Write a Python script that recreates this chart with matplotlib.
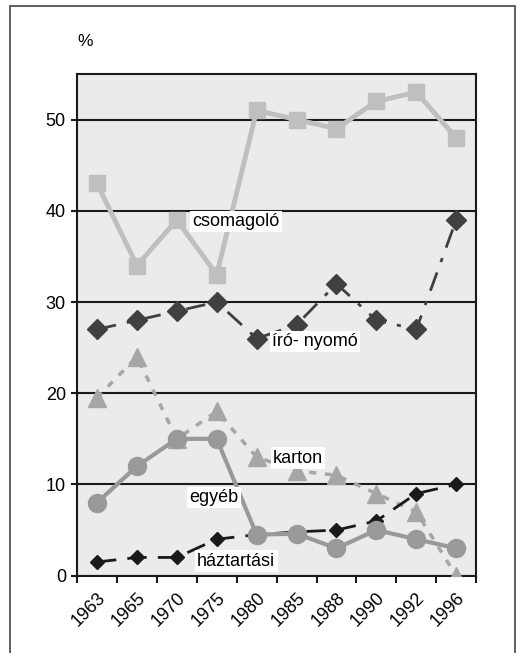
import numpy as np
import matplotlib
matplotlib.use('Agg')
import matplotlib.pyplot as plt
from matplotlib.patches import Rectangle

plt.rcParams['font.family'] = ['Liberation Sans', 'DejaVu Sans']

years = ['1963', '1965', '1970', '1975', '1980', '1985', '1988', '1990', '1992', '1996']
csomagolo = [43, 34, 39, 33, 51, 50, 49, 52, 53, 48]
iro_nyomo = [27, 28, 29, 30, 26, 27.5, 32, 28, 27, 39]
karton = [19.5, 24, 15, 18, 13, 11.5, 11, 9, 7, 0]
egyeb = [8, 12, 15, 15, 4.5, 4.6, 3, 5, 4, 3]
haztartasi = [1.5, 2, 2, 4, 4.5, 4.8, 5, 6, 9, 10]

x = np.arange(len(years))

fig = plt.figure(figsize=(5.17, 6.53), dpi=100)
ax = fig.add_axes([0.149, 0.1184, 0.772, 0.7683])
ax.set_facecolor('#ebebeb')

# karton
ax.plot(x, karton, color='#a6a6a6', lw=2.5, ls=(0, (2, 2.5)),
        marker='^', ms=13, mec='#a6a6a6', zorder=3)
# haztartasi
ax.plot(x, haztartasi, color='#1a1a1a', lw=2, ls=(0, (7, 4)),
        marker='D', ms=7, zorder=4)
# egyeb
ax.plot(x, egyeb, color='#999999', lw=3, marker='o', ms=13, zorder=5)
# iro-nyomo
ax.plot(x, iro_nyomo, color='#404040', lw=2, ls=(0, (7, 4, 1.5, 4)),
        marker='D', ms=10, zorder=6)
# csomagolo
ax.plot(x, csomagolo, color='#bfbfbf', lw=3.5, marker='s', ms=12, zorder=7)

box = dict(facecolor='white', edgecolor='none', pad=1.5)
for txt, tx, ty in [('csomagoló', 3.48, 38.8), ('író- nyomó', 5.46, 25.7),
                    ('karton', 5.04, 12.9), ('egyéb', 2.93, 8.6),
                    ('háztartási', 3.49, 1.6)]:
    ax.text(tx, ty, txt, fontsize=13, ha='center', va='center',
            bbox=box, zorder=10)

ax.set_xlim(-0.5, 9.5)
ax.set_ylim(0, 55)
ax.set_yticks([0, 10, 20, 30, 40, 50])
ax.yaxis.grid(True, color='#1a1a1a', lw=1.5)
ax.set_axisbelow(True)
ax.set_xticks(np.arange(-0.5, 10, 1))
ax.set_xticklabels([])
ax.set_xticks(x, minor=True)
ax.set_xticklabels(years, minor=True, rotation=45, ha='right',
                   rotation_mode='anchor', fontsize=13)
ax.tick_params(axis='x', which='major', direction='out', length=5, width=1.5, color='#1a1a1a')
ax.tick_params(axis='x', which='minor', length=0, pad=10)
ax.tick_params(axis='y', direction='out', length=4, width=1.5, labelsize=13, color='#1a1a1a', pad=4)
for s in ax.spines.values():
    s.set_color('#1a1a1a')
    s.set_linewidth(1.5)

fig.text(0.164, 0.9357, '%', fontsize=12.5, ha='center', va='center')
fig.patches.append(Rectangle((10 / 517, -0.01), 505 / 517, 1 - 6 / 653 + 0.01,
                             transform=fig.transFigure, fill=False,
                             edgecolor='#444444', lw=1.2))

fig.savefig('out.png', dpi=100)
